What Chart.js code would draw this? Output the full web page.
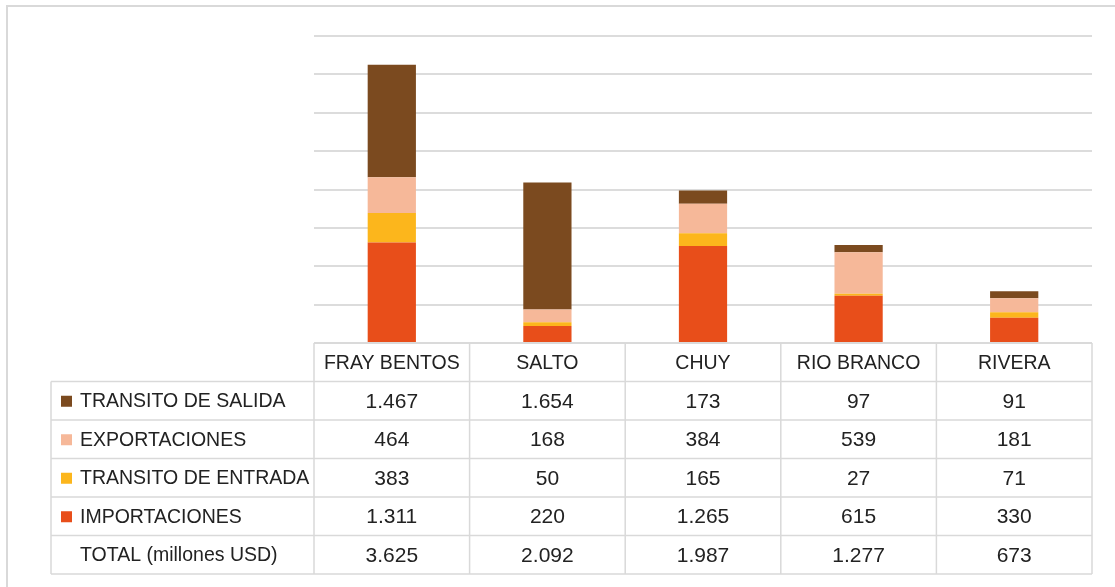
<!DOCTYPE html>
<html>
<head>
<meta charset="utf-8">
<script src="https://cdn.jsdelivr.net/npm/chart.js@4.4.1/dist/chart.umd.min.js"></script>
<style>
  html, body { margin: 0; padding: 0; background: #fff; }
  #wrap { width: 1115px; height: 587px; }
</style>
</head>
<body>
<div id="wrap"><canvas id="chart" width="1115" height="587"></canvas></div>
<script>
const categories = ['FRAY BENTOS', 'SALTO', 'CHUY', 'RIO BRANCO', 'RIVERA'];
const importaciones = [1311, 220, 1265, 615, 330];
const transitoEntrada = [383, 50, 165, 27, 71];
const exportaciones = [464, 168, 384, 539, 181];
const transitoSalida = [1467, 1654, 173, 97, 91];
const totals = [3625, 2092, 1987, 1277, 673];
const totalLabel = 'TOTAL (millones USD)';

const COLORS = {
    salida: '#7B4A1F',
    export: '#F6B899',
    entrada: '#FCB61C',
    import: '#E84E1A'
};

const fmt = (v) => String(v).replace(/\B(?=(\d{3})+(?!\d))/g, '.');

// Excel-like data table drawn under the plot area
const dataTablePlugin = {
    id: 'dataTablePlugin',
    beforeDraw(chart) {
        const { ctx } = chart;
        ctx.save();
        ctx.strokeStyle = '#d9d9d9';
        ctx.lineWidth = 2;
        ctx.strokeRect(7, 6, 1300, 800);
        ctx.restore();
    },
    afterDraw(chart) {
        const { ctx, chartArea, scales } = chart;
        const x = scales.x;
        const top = chartArea.bottom;
        const rowH = 38.5;
        const tableLeft = 51;
        const colW = (chartArea.right - chartArea.left) / categories.length;
        const rows = [
            { label: 'TRANSITO DE SALIDA', color: COLORS.salida, data: transitoSalida },
            { label: 'EXPORTACIONES', color: COLORS.export, data: exportaciones },
            { label: 'TRANSITO DE ENTRADA', color: COLORS.entrada, data: transitoEntrada },
            { label: 'IMPORTACIONES', color: COLORS.import, data: importaciones },
            { label: totalLabel, color: null, data: totals }
        ];
        const bottom = top + rowH * (rows.length + 1);

        ctx.save();
        ctx.strokeStyle = '#d9d9d9';
        ctx.lineWidth = 1.5;
        ctx.beginPath();
        // header top line
        ctx.moveTo(chartArea.left, top);
        ctx.lineTo(chartArea.right, top);
        for (let r = 1; r <= rows.length + 1; r++) {
            const y = top + r * rowH;
            ctx.moveTo(tableLeft, y);
            ctx.lineTo(chartArea.right, y);
        }
        ctx.moveTo(tableLeft, top + rowH);
        ctx.lineTo(tableLeft, bottom);
        for (let c = 0; c <= categories.length; c++) {
            const cx = chartArea.left + c * colW;
            ctx.moveTo(cx, top);
            ctx.lineTo(cx, bottom);
        }
        ctx.stroke();

        const labelFont = '19.5px "Liberation Sans", Arial, sans-serif';
        const numFont = '21px "Liberation Sans", Arial, sans-serif';
        ctx.fillStyle = '#222';
        ctx.textBaseline = 'middle';
        ctx.textAlign = 'center';
        ctx.font = labelFont;
        categories.forEach((cat, i) => {
            ctx.fillText(cat, x.getPixelForValue(i), top + rowH / 2 + 1);
        });

        rows.forEach((row, r) => {
            const cy = top + (r + 1) * rowH + rowH / 2 + 1;
            if (row.color) {
                ctx.fillStyle = row.color;
                ctx.fillRect(61, cy - 6, 11, 11);
            }
            ctx.fillStyle = '#222';
            ctx.textAlign = 'left';
            ctx.font = labelFont;
            ctx.fillText(row.label, 80, cy);
            ctx.textAlign = 'center';
            ctx.font = numFont;
            row.data.forEach((v, i) => {
                ctx.fillText(fmt(v), x.getPixelForValue(i), cy);
            });
        });
        ctx.restore();
    }
};

new Chart(document.getElementById('chart'), {
    type: 'bar',
    data: {
        labels: categories,
        datasets: [
            { label: 'IMPORTACIONES', data: importaciones, backgroundColor: COLORS.import },
            { label: 'TRANSITO DE ENTRADA', data: transitoEntrada, backgroundColor: COLORS.entrada },
            { label: 'EXPORTACIONES', data: exportaciones, backgroundColor: COLORS.export },
            { label: 'TRANSITO DE SALIDA', data: transitoSalida, backgroundColor: COLORS.salida }
        ]
    },
    options: {
        responsive: false,
        animation: false,
        layout: { padding: { left: 314, right: 23, top: 36, bottom: 244 } },
        datasets: { bar: { categoryPercentage: 1, barPercentage: 0.31, borderWidth: 0 } },
        plugins: { legend: { display: false }, tooltip: { enabled: false } },
        scales: {
            x: { stacked: true, display: false },
            y: {
                stacked: true, min: 0, max: 4000,
                ticks: { display: false, stepSize: 500 },
                border: { display: false },
                grid: { color: '#dcdcdc', lineWidth: 2, drawTicks: false },
                afterFit: (axis) => { axis.width = 0; }
            }
        }
    },
    plugins: [dataTablePlugin]
});
</script>
</body>
</html>
